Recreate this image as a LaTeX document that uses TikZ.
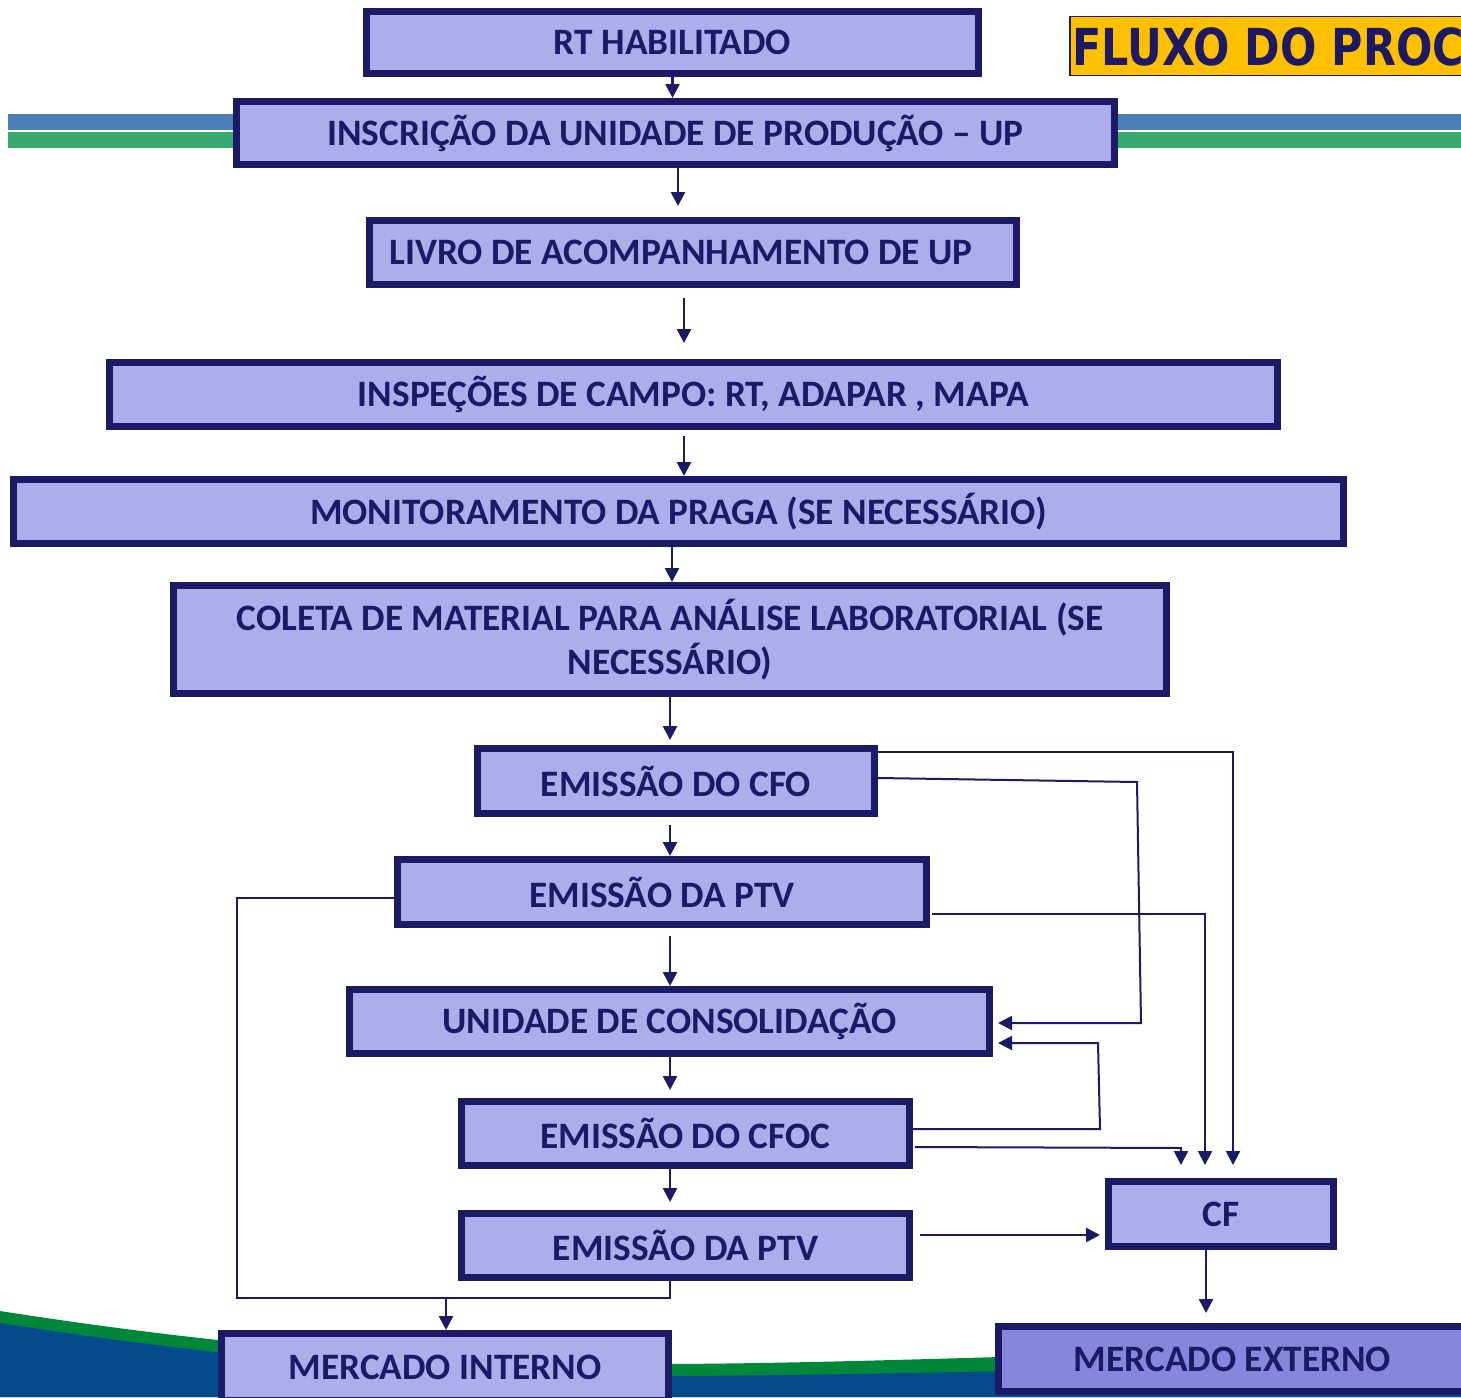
\documentclass[tikz,border=0pt]{standalone}
\usepackage{fontspec}
\setmainfont{Carlito}
\newfontfamily\titlefont{DejaVu Sans}
\usetikzlibrary{arrows.meta,calc}
\definecolor{navy}{HTML}{1C1A66}
\definecolor{boxfill}{HTML}{ADADEB}
\definecolor{boxfilldark}{HTML}{8686DD}
\definecolor{barblue}{HTML}{4A7EB6}
\definecolor{bargreen}{HTML}{39A96F}
\definecolor{wavegreen}{HTML}{00873A}
\definecolor{waveblue}{HTML}{044B8B}
\definecolor{titleyellow}{HTML}{FFC000}
\tikzset{
  box/.style={draw=navy, line width=7pt, fill=boxfill, inner sep=0pt, text=navy,
    font=\fontsize{37.3}{44}\selectfont\bfseries, align=center},
  arr/.style={draw=navy, line width=2.6pt, -{Triangle[width=14pt,length=14pt]}},
  link/.style={draw=navy, line width=2pt},
  linkarr/.style={draw=navy, line width=2pt, -{Triangle[width=14pt,length=14pt]}}
}
\begin{document}
\begin{tikzpicture}[x=1pt,y=-1pt]
\useasboundingbox (0,0) rectangle (1461,1397);
\clip (0,0) rectangle (1461,1397);
% background bars
\fill[barblue] (8,114) rectangle (1461,130);
\fill[bargreen] (8,132) rectangle (1461,148);
% bottom wave
\fill[wavegreen] (0,1311) .. controls (250,1350) and (450,1363) .. (650,1364)
  .. controls (850,1364) and (1100,1352) .. (1461,1345) -- (1461,1397) -- (0,1397) -- cycle;
\fill[waveblue] (0,1323) .. controls (250,1362) and (450,1376) .. (650,1376)
  .. controls (850,1376) and (1100,1368) .. (1461,1362) -- (1461,1397) -- (0,1397) -- cycle;
% title
\node[draw=navy, line width=1.5pt, fill=titleyellow, anchor=west, minimum height=59pt,
  minimum width=420pt, inner sep=0pt] (titlebox) at (1069,46) {};
\node[anchor=west, text=navy, font=\titlefont\fontsize{51}{54}\selectfont\bfseries, inner sep=0pt]
  (title) at (1072,47) {\scalebox{0.84}[1]{FLUXO DO PROC}};
% boxes
\node[box, minimum width=612pt, minimum height=62pt] (rt) at (672.5,42.5) {RT HABILITADO};
\node[box, minimum width=878pt, minimum height=63pt] (insc) at (675.5,133) {INSCRIÇÃO DA UNIDADE DE PRODUÇÃO – UP};
\node[box, minimum width=647pt, minimum height=64pt] (livro) at (693,252.5) {\hspace*{-24pt}LIVRO DE ACOMPANHAMENTO DE UP};
\node[box, minimum width=1168pt, minimum height=64pt] (insp) at (693.5,394.5) {INSPEÇÕES DE CAMPO: RT, ADAPAR , MAPA};
\node[box, minimum width=1330pt, minimum height=64pt] (mon) at (678.5,511.5) {MONITORAMENTO DA PRAGA (SE NECESSÁRIO)};
\node[box, minimum width=993pt, minimum height=108pt] (col) at (670,639.5) {COLETA DE MATERIAL PARA ANÁLISE LABORATORIAL (SE\\NECESSÁRIO)};
\node[box, minimum width=397pt, minimum height=65pt] (cfo) at (676,781) {EMISSÃO DO CFO};
\node[box, minimum width=529pt, minimum height=65pt] (ptv) at (662,892) {EMISSÃO DA PTV};
\node[box, minimum width=640pt, minimum height=64pt] (uc) at (669.5,1021.5) {UNIDADE DE CONSOLIDAÇÃO};
\node[box, minimum width=448pt, minimum height=64pt] (cfoc) at (685.5,1133.5) {EMISSÃO DO CFOC};
\node[box, minimum width=448pt, minimum height=64pt] (ptvb) at (685.5,1245.5) {EMISSÃO DA PTV};
\node[box, minimum width=225pt, minimum height=65pt] (cf) at (1221,1214) {CF};
\node[box, minimum width=447pt, minimum height=67pt] (mi) at (445,1367) {\raisebox{-2pt}{MERCADO INTERNO}};
\node[box, fill=boxfilldark, minimum width=468pt, minimum height=65pt] (me) at (1232.5,1359) {MERCADO EXTERNO};
% main vertical arrows
\draw[arr] (rt.south) -- (rt.south |- insc.north);
\draw[arr, shorten >=11pt] ([xshift=2.5pt]insc.south) -- ([xshift=2.5pt]insc.south |- livro.north);
\draw[arr, shorten <=10pt, shorten >=16pt] ([xshift=-9pt]livro.south) -- ([xshift=-9pt]livro.south |- insp.north);
\draw[arr, shorten <=6pt] ([xshift=-9.5pt]insp.south) -- ([xshift=-9.5pt]insp.south |- mon.north);
\draw[arr] ([xshift=-6.5pt]mon.south) -- ([xshift=-6.5pt]mon.south |- col.north);
\draw[arr, shorten >=5pt] (col.south) -- (col.south |- cfo.north);
\draw[arr, shorten <=8pt] ([xshift=-6pt]cfo.south) -- ([xshift=-6pt]cfo.south |- ptv.north);
\draw[arr, shorten <=8pt] ([xshift=8pt]ptv.south) -- ([xshift=8pt]ptv.south |- uc.north);
\draw[arr, shorten >=8pt] ([xshift=0.5pt]uc.south) -- ([xshift=0.5pt]uc.south |- cfoc.north);
\draw[arr, shorten >=8pt] ([xshift=-15.5pt]cfoc.south) -- ([xshift=-15.5pt]cfoc.south |- ptvb.north);
\draw[arr, shorten <=7pt, shorten >=5pt] ([yshift=10.5pt]ptvb.east) -- ([yshift=10.5pt]ptvb.east -| cf.west);
\draw[arr, shorten >=10pt] ([xshift=-15pt]cf.south) -- ([xshift=-15pt]cf.south |- me.north);
% left loop to mercado interno
\coordinate (lp) at (446,1298);
\draw[link] ([yshift=-6pt]ptv.west) -- (237,898) -- (237,1298) -- (670,1298) -- ([xshift=-15.5pt]ptvb.south);
\draw[arr] (lp) -- (lp |- mi.north);
% right-side connectors
\draw[linkarr, shorten >=13pt] ([yshift=29pt]cfo.east) -- (1233,752) -- (1233,1178);
\draw[linkarr, shorten >=5pt] ([yshift=3pt]cfo.east) -- (1137,782) -- (1141,1023) -- ([yshift=-1.5pt]uc.east);
\draw[linkarr, shorten >=13pt] ([xshift=2pt,yshift=-22pt]ptv.east) -- (1205,914) -- (1205,1178);
\draw[linkarr, shorten >=5pt] ([yshift=4.5pt]cfoc.east) -- (1100,1129) -- (1098,1043) -- ([yshift=-21.5pt]uc.east);
\draw[linkarr, shorten >=13pt] ([xshift=2pt,yshift=-13.5pt]cfoc.east) -- (1181,1148) -- (1181,1178);
\end{tikzpicture}
\end{document}
